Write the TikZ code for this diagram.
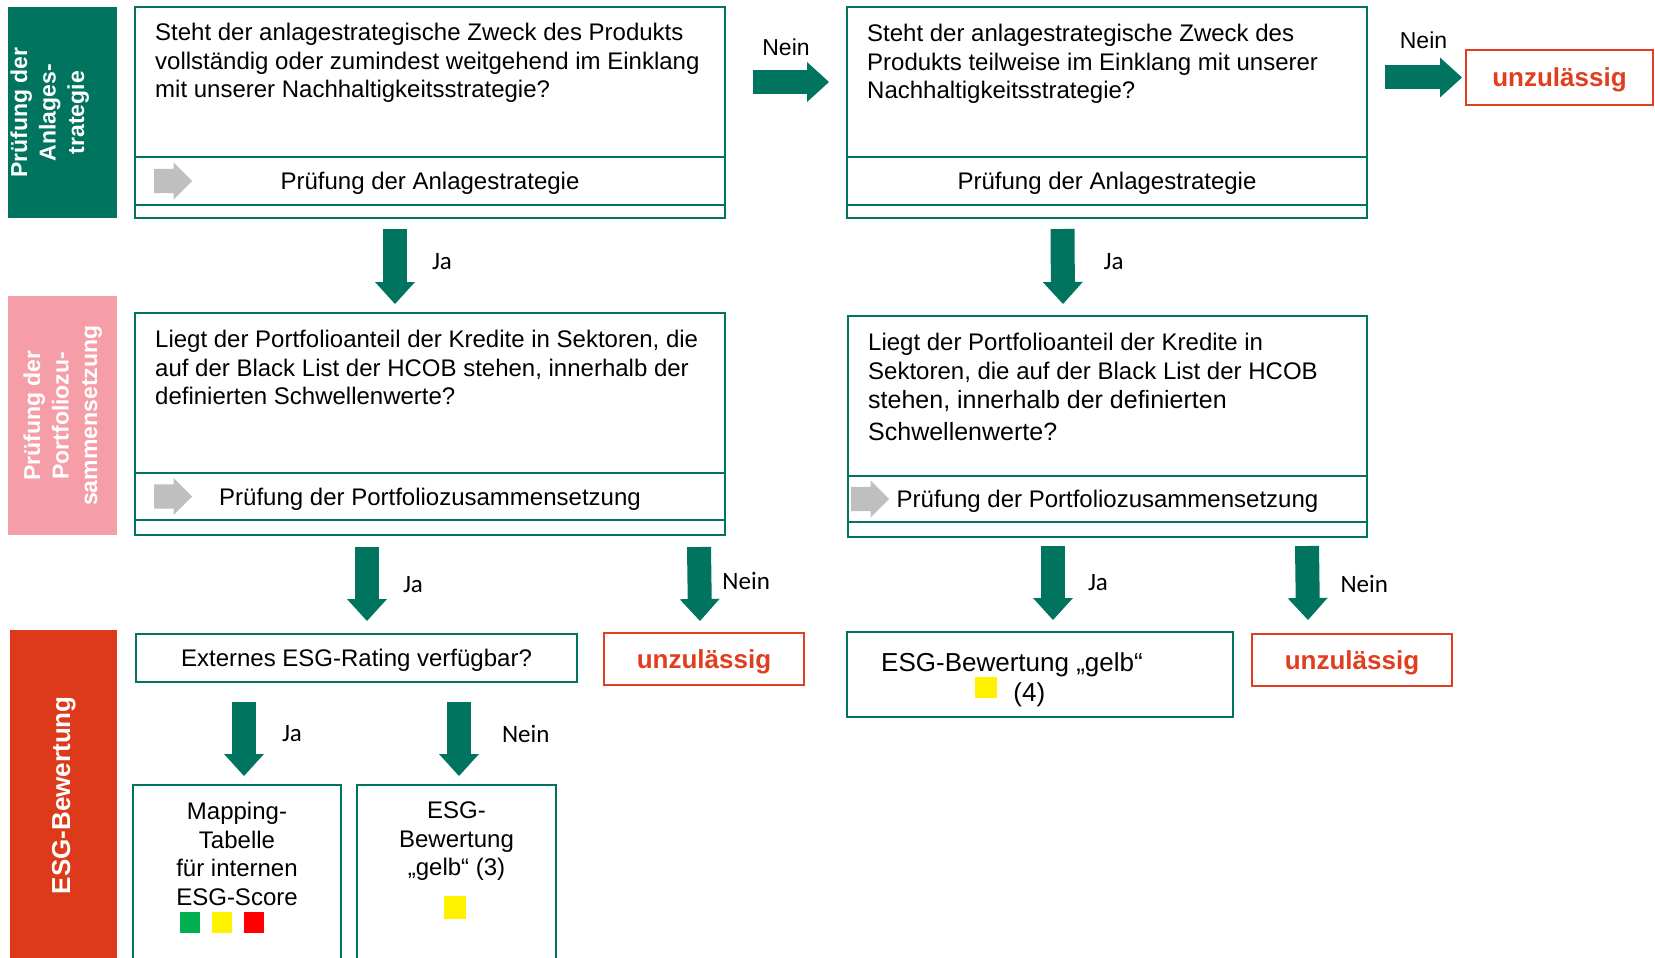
\documentclass[tikz,border=0pt]{standalone}
\usepackage{fontspec}
\setmainfont{Liberation Sans}
\newfontfamily\carlito{Carlito}
\usepackage{tikz}
\usetikzlibrary{positioning, shapes.arrows, arrows.meta}
\definecolor{hcteal}{RGB}{0,116,94}
\definecolor{hcred}{RGB}{224,62,30}
\definecolor{hcorange}{RGB}{220,58,26}
\definecolor{hcpink}{RGB}{245,158,168}
\definecolor{hcgray}{RGB}{191,191,191}
\tikzset{
    qbox/.style={rectangle, draw=hcteal, line width=1.5pt, inner sep=0pt, outer sep=0pt},
    qtext/.style={inner sep=0pt, align=left, anchor=north west},
    ctext/.style={inner sep=0pt, align=center, anchor=north},
    redbox/.style={rectangle, draw=hcred, line width=2pt, inner sep=0pt, text depth=0pt, anchor=north west, text=hcred, font=\bfseries\fontsize{26}{30}\selectfont},
    band/.style={rectangle, inner sep=0pt, anchor=north west},
    bandtext/.style={rotate=90, align=center, inner sep=0pt, text=white, font=\bfseries\fontsize{23}{28.5}\selectfont},
    flow/.style={draw=hcteal, line width=24pt, -{Triangle[length=22pt, width=40pt, line width=0pt]}},
    lbl/.style={inner sep=0pt, font=\carlito\fontsize{25}{30}\selectfont},
    toplbl/.style={inner sep=0pt, font=\fontsize{23}{28}\selectfont},
    pointer/.style={single arrow, fill=hcgray, minimum height=38pt, inner xsep=0pt, inner ysep=12pt, single arrow head extend=6.5pt, anchor=tail},
    sq/.style={rectangle, minimum width=20pt, minimum height=21pt, inner sep=0pt},
}
\begin{document}
\begin{tikzpicture}[x=1pt, y=-1pt, font=\fontsize{24}{28.5}\selectfont]
\useasboundingbox (0,0) rectangle (1655,958);
\clip (0,0) rectangle (1655,958);

\node[band, fill=hcteal, minimum width=109pt, minimum height=211pt] (band1) at (8,7) {};
\node[bandtext] (band1txt) at ([xshift=-13pt]band1.center) {Prüfung der\\Anlages-\\trategie};
\node[band, fill=hcpink, minimum width=109pt, minimum height=239pt] (band2) at (8,296) {};
\node[bandtext] (band2txt) at (band2.center) {Prüfung der\\Portfoliozu-\\sammensetzung};
\node[band, fill=hcorange, minimum width=107pt, minimum height=330pt] (band3) at (10,630) {};
\node[bandtext, font=\bfseries\fontsize{26}{30}\selectfont] (band3txt) at (band3.center) {ESG-Bewertung};

\node[qbox, anchor=north west, minimum width=590pt, minimum height=150pt] (box1) at (135,7) {};
\node[qbox, below=0pt of box1, minimum width=590pt, minimum height=48pt, text depth=0pt] (box1p) {Prüfung der Anlagestrategie};
\node[qbox, below=0pt of box1p, minimum width=590pt, minimum height=13pt] (box1s) {};
\node[qtext] (q1) at ([xshift=20pt, yshift=-16pt]box1.north west) {Steht der anlagestrategische Zweck des Produkts\\vollständig oder zumindest weitgehend im Einklang\\mit unserer Nachhaltigkeitsstrategie?};
\node[pointer] (p1) at ([xshift=19pt]box1p.west) {};

\node[qbox, anchor=north west, minimum width=520pt, minimum height=150pt] (box2) at (847,7) {};
\node[qbox, below=0pt of box2, minimum width=520pt, minimum height=48pt, text depth=0pt] (box2p) {Prüfung der Anlagestrategie};
\node[qbox, below=0pt of box2p, minimum width=520pt, minimum height=13pt] (box2s) {};
\node[qtext] (q2) at ([xshift=20pt, yshift=-17pt]box2.north west) {Steht der anlagestrategische Zweck des\\Produkts teilweise im Einklang mit unserer\\Nachhaltigkeitsstrategie?};

\node[redbox, minimum width=187pt, minimum height=55pt] (unz1) at (1465,49) {unzulässig};

\node[qbox, anchor=north west, minimum width=590pt, minimum height=160pt] (box3) at (135,313) {};
\node[qbox, below=0pt of box3, minimum width=590pt, minimum height=47pt, text depth=0pt] (box3p) {Prüfung der Portfoliozusammensetzung};
\node[qbox, below=0pt of box3p, minimum width=590pt, minimum height=15pt] (box3s) {};
\node[qtext] (q3) at ([xshift=20pt, yshift=-17pt]box3.north west) {Liegt der Portfolioanteil der Kredite in Sektoren, die\\auf der Black List der HCOB stehen, innerhalb der\\definierten Schwellenwerte?};
\node[pointer] (p3) at ([xshift=19pt]box3p.west) {};

\node[qbox, anchor=north west, minimum width=519pt, minimum height=160pt] (box4) at (848,316) {};
\node[qbox, below=0pt of box4, minimum width=519pt, minimum height=46pt, text depth=0pt] (box4p) {Prüfung der Portfoliozusammensetzung};
\node[qbox, below=0pt of box4p, minimum width=519pt, minimum height=15pt] (box4s) {};
\node[qtext] (q4) at ([xshift=20pt, yshift=-17pt]box4.north west) {Liegt der Portfolioanteil der Kredite in\\Sektoren, die auf der Black List der HCOB\\[1pt]{\fontsize{25}{31}\selectfont stehen, innerhalb der definierten}\\[3pt]{\fontsize{25}{31}\selectfont Schwellenwerte?}};
\node[pointer] (p4) at ([xshift=3pt]box4p.west) {};

\node[qbox, anchor=north west, minimum width=441pt, minimum height=48pt, text depth=0pt] (ext) at (136,634) {Externes ESG-Rating verfügbar?};
\node[redbox, minimum width=200pt, minimum height=52pt] (unz2) at (603,632) {unzulässig};
\node[qbox, anchor=north west, minimum width=386pt, minimum height=85pt] (gelb4) at (847,632) {};
\node[qtext, font=\fontsize{26}{30}\selectfont] (g4) at ([xshift=34pt, yshift=-20pt]gelb4.north west) {ESG-Bewertung „gelb“};
\node[sq, fill=yellow, minimum width=22pt] (g4sq) at ([xshift=139pt, yshift=-55.5pt]gelb4.north west) {};
\node[inner sep=0pt, anchor=west, font=\fontsize{26}{30}\selectfont, right=16pt of g4sq, yshift=-7pt] (g4num) {(4)};
\node[redbox, minimum width=200pt, minimum height=52pt] (unz3) at (1251,633) {unzulässig};

\node[qbox, anchor=north west, minimum width=208pt, minimum height=200pt] (map) at (133,785) {};
\node[ctext] (maptxt) at ([yshift=-17pt]map.north) {Mapping-\\Tabelle\\für internen\\ESG-Score};
\node[sq, fill=yellow] (sqy) at ([xshift=-15pt, yshift=-137.5pt]map.north) {};
\node[sq, fill={rgb,255:red,0;green,176;blue,80}, left=12pt of sqy] (sqg) {};
\node[sq, fill=red, right=12pt of sqy] (sqr) {};
\node[qbox, anchor=north west, minimum width=199pt, minimum height=200pt] (esg3) at (357,785) {};
\node[ctext] (esg3txt) at ([yshift=-17pt]esg3.north) {ESG-\\Bewertung\\„gelb“ (3)};
\node[sq, fill=yellow, minimum width=22pt, minimum height=23pt] (esg3sq) at ([xshift=-1.5pt, yshift=-122.5pt]esg3.north) {};

\draw[flow, shorten <=28pt, shorten >=18pt] (box1) -- (box2) node[toplbl, midway, above=14pt] {Nein};
\draw[flow] ([xshift=18pt]box2.east |- unz1.west) -- ([xshift=-3pt]unz1.west) node[toplbl, midway, above=17pt] {Nein};
\draw[flow] ([xshift=-35pt, yshift=-11pt]box1s.south) -- ([xshift=-35pt, yshift=9pt]box3.north) node[lbl, pos=0.43, right=25pt] {Ja};
\draw[flow] ([xshift=-44.5pt, yshift=-11pt]box2s.south) -- ([xshift=-44.5pt, yshift=12pt]box4.north) node[lbl, pos=0.43, right=29pt] {Ja};
\draw[flow] ([xshift=-63pt, yshift=-12pt]box3s.south) -- ([xshift=10.5pt, yshift=13pt]ext.north) node[lbl, pos=0.51, right=24pt] {Ja};
\draw[flow] ([xshift=269pt, yshift=-12pt]box3s.south) -- ([xshift=-4pt, yshift=11pt]unz2.north) node[lbl, pos=0.46, right=11pt] {Nein};
\draw[flow] ([xshift=-54.5pt, yshift=-9pt]box4s.south) -- ([xshift=13pt, yshift=12pt]gelb4.north) node[lbl, pos=0.5, right=23pt] {Ja};
\draw[flow] ([xshift=199.5pt, yshift=-9pt]box4s.south) -- ([xshift=-44pt, yshift=13pt]unz3.north) node[lbl, pos=0.51, right=21pt] {Nein};
\draw[flow] ([xshift=-112.5pt, yshift=-20pt]ext.south) -- ([xshift=7pt, yshift=9pt]map.north) node[lbl, pos=0.43, right=26pt] {Ja};
\draw[flow] ([xshift=102.5pt, yshift=-20pt]ext.south) -- ([xshift=2.5pt, yshift=9pt]esg3.north) node[lbl, pos=0.43, right=31pt] {Nein};
\end{tikzpicture}
\end{document}
